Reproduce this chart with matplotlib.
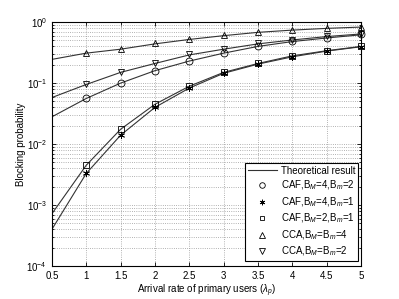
import numpy as np
import matplotlib.pyplot as plt
from matplotlib.lines import Line2D

plt.rcParams['font.family'] = ['Liberation Sans', 'DejaVu Sans']
plt.rcParams['mathtext.fontset'] = 'custom'
plt.rcParams['mathtext.rm'] = 'Liberation Sans'
plt.rcParams['mathtext.it'] = 'Liberation Sans:italic'

lam_th = [0.5, 1, 1.5, 2, 2.5, 3, 3.5, 4, 4.5, 5]
lam_sim = [1, 1.5, 2, 2.5, 3, 3.5, 4, 4.5, 5]

# theoretical curves
th_caf42 = [0.028, 0.056, 0.10, 0.16, 0.23, 0.31, 0.40, 0.48, 0.55, 0.62]
th_caf41 = [4.0e-4, 3.3e-3, 0.014, 0.040, 0.083, 0.145, 0.205, 0.27, 0.335, 0.395]
th_caf21 = [7.2e-4, 4.5e-3, 0.0175, 0.045, 0.089, 0.15, 0.21, 0.28, 0.34, 0.40]
th_cca4 = [0.245, 0.31, 0.36, 0.44, 0.52, 0.60, 0.68, 0.74, 0.79, 0.83]
th_cca2 = [0.058, 0.095, 0.15, 0.21, 0.29, 0.36, 0.44, 0.51, 0.58, 0.64]

# simulation points
sim_caf42 = [0.056, 0.10, 0.16, 0.23, 0.31, 0.40, 0.49, 0.55, 0.63]
sim_caf41 = [3.3e-3, 0.014, 0.040, 0.083, 0.145, 0.205, 0.27, 0.335, 0.395]
sim_caf21 = [4.5e-3, 0.0177, 0.045, 0.089, 0.15, 0.21, 0.28, 0.34, 0.40]
sim_cca4 = [0.31, 0.36, 0.45, 0.53, 0.61, 0.69, 0.74, 0.80, 0.83]
sim_cca2 = [0.096, 0.15, 0.21, 0.30, 0.36, 0.45, 0.50, 0.59, 0.64]

fig = plt.figure(figsize=(3.99, 2.99), dpi=100)
ax = fig.add_axes([0.130, 0.110, 0.775, 0.816])

lc = '#333333'
for th in [th_caf42, th_caf41, th_caf21, th_cca4, th_cca2]:
    ax.plot(lam_th, th, color=lc, lw=0.8)

star = (6, 2, 0)
mk = dict(color='k', ls='none', mfc='none', mew=0.6)
ax.plot(lam_sim, sim_caf42, marker='o', ms=5, clip_on=False, **mk)
ax.plot(lam_sim, sim_caf41, marker=star, ms=5, clip_on=False, **mk)
ax.plot(lam_sim, sim_caf21, marker='s', ms=4.5, clip_on=False, **mk)
ax.plot(lam_sim, sim_cca4, marker='^', ms=5, clip_on=False, **mk)
ax.plot(lam_sim, sim_cca2, marker='v', ms=5, clip_on=False, **mk)

ax.set_yscale('log')
ax.set_xlim(0.5, 5)
ax.set_ylim(1e-4, 1)
ax.set_xticks([0.5, 1, 1.5, 2, 2.5, 3, 3.5, 4, 4.5, 5])
ax.set_xticklabels(['0.5', '1', '1.5', '2', '2.5', '3', '3.5', '4', '4.5', '5'])
ax.tick_params(which='both', direction='in', top=True, right=True, labelsize=7, length=3, width=0.6)
ax.tick_params(which='minor', length=1.5)
ax.grid(True, which='major', ls=':', color='#999999', lw=0.6)
ax.grid(True, which='minor', axis='y', ls=':', color='#999999', lw=0.6)
for s in ax.spines.values():
    s.set_linewidth(0.8)

ax.set_xlabel('Arrival rate of primary users ($\\lambda_p$)', fontsize=7, labelpad=1)
ax.set_ylabel('Blocking probability', fontsize=7, labelpad=0)

handles = [
    Line2D([], [], color=lc, lw=0.8),
    Line2D([], [], marker='o', ms=4, **mk),
    Line2D([], [], marker=star, ms=4, **mk),
    Line2D([], [], marker='s', ms=3.5, **mk),
    Line2D([], [], marker='^', ms=4, **mk),
    Line2D([], [], marker='v', ms=4, **mk),
]
labels = ['Theoretical result', 'CAF,B$_M$=4,B$_m$=2', 'CAF,B$_M$=4,B$_m$=1',
          'CAF,B$_M$=2,B$_m$=1', 'CCA,B$_M$=B$_m$=4', 'CCA,B$_M$=B$_m$=2']
leg = ax.legend(handles, labels, loc='lower right', fontsize=7, fancybox=False,
                edgecolor='k', framealpha=1, borderpad=0.3, labelspacing=0.3,
                handlelength=3.0, handletextpad=0.4, borderaxespad=0,
                bbox_to_anchor=(0.99, 0.02))
leg.get_frame().set_linewidth(0.8)

fig.savefig('out.png', dpi=100)
